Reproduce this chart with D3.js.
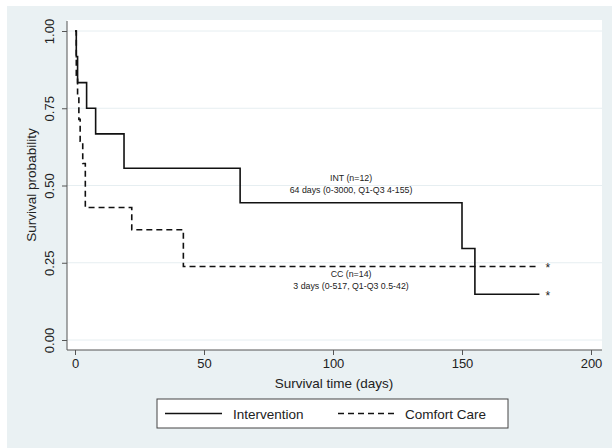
<!DOCTYPE html>
<html>
<head>
<meta charset="utf-8">
<script src="https://cdn.jsdelivr.net/npm/d3@7"></script>
<style>
  body { margin: 0; background: #fff; }
  svg text { font-family: "Liberation Sans", Arial, sans-serif; fill: #222; }
</style>
</head>
<body>
<svg width="612" height="448"></svg>
<script>
// Kaplan-Meier steps
var intTime = [0, 0.5, 1, 4.5, 8, 19, 64, 150, 155, 180];
var intSurv = [1, 0.917, 0.833, 0.75, 0.667, 0.556, 0.444, 0.296, 0.148, 0.148];
var ccTime = [0, 0.5, 1, 1.5, 2, 3, 4, 22, 42, 180];
var ccSurv = [1, 0.857, 0.786, 0.714, 0.643, 0.571, 0.429, 0.357, 0.238, 0.238];
var xTicks = [0, 50, 100, 150, 200];
var yTicks = [0, 0.25, 0.5, 0.75, 1];
var intNote = ["INT (n=12)", "64 days (0-3000, Q1-Q3 4-155)"];
var ccNote = ["CC (n=14)", "3 days (0-517, Q1-Q3 0.5-42)"];
var seriesNames = ["Intervention", "Comfort Care"];

var svg = d3.select("svg");

var x = d3.scaleLinear().domain([0, 200]).range([75, 591]);
var y = d3.scaleLinear().domain([0, 1]).range([340, 31]);

// graph region and plot region
svg.append("rect").attr("x", 7).attr("y", 6).attr("width", 605).attr("height", 442)
    .attr("fill", "#eaf1f3");
svg.append("rect").attr("x", 67).attr("y", 20).attr("width", 535).attr("height", 330)
    .attr("fill", "#fff");

// gridlines
svg.append("g").selectAll("line")
    .data(yTicks).enter().append("line")
    .attr("x1", 67).attr("x2", 602)
    .attr("y1", function (d) { return y(d); })
    .attr("y2", function (d) { return y(d); })
    .attr("stroke", "#e6eef1").attr("stroke-width", 1);

// axes
var xAxis = svg.append("g").attr("transform", "translate(0,350)")
    .call(d3.axisBottom(x).tickValues(xTicks).tickSize(5).tickPadding(4).tickFormat(d3.format("d")));
xAxis.select(".domain").attr("d", "M67,0H602").attr("stroke", "#555");
xAxis.selectAll(".tick line").attr("stroke", "#555");
xAxis.selectAll("text").attr("font-size", 13).style("font-family", "Liberation Sans, Arial, sans-serif");

var yAxis = svg.append("g").attr("transform", "translate(67,0)")
    .call(d3.axisLeft(y).tickValues(yTicks).tickSize(5).tickFormat(d3.format(".2f")));
yAxis.select(".domain").attr("d", "M0,21V350").attr("stroke", "#555");
yAxis.selectAll(".tick line").attr("stroke", "#555");
yAxis.selectAll(".tick text")
    .attr("font-size", 13)
    .style("font-family", "Liberation Sans, Arial, sans-serif")
    .attr("text-anchor", "middle")
    .attr("x", 0).attr("dy", 0)
    .attr("transform", "translate(-13,0) rotate(-90)");

svg.append("text").attr("x", 334).attr("y", 388).attr("text-anchor", "middle")
    .attr("font-size", 13.5).text("Survival time (days)");
svg.append("text").attr("transform", "translate(36,185) rotate(-90)")
    .attr("text-anchor", "middle").attr("font-size", 13.5).text("Survival probability");

// survival curves
var step = d3.line()
    .x(function (d) { return x(d[0]); })
    .y(function (d) { return y(d[1]); })
    .curve(d3.curveStepAfter);

var intData = d3.zip(intTime, intSurv);
var ccData = d3.zip(ccTime, ccSurv);

svg.append("path").datum(ccData).attr("d", step)
    .attr("fill", "none").attr("stroke", "#111").attr("stroke-width", 1.6)
    .attr("stroke-dasharray", "6,4");
svg.append("path").datum(intData).attr("d", step)
    .attr("fill", "none").attr("stroke", "#111").attr("stroke-width", 1.6);

// censor asterisks at the end
svg.append("g").selectAll("text")
    .data([intData[intData.length - 1], ccData[ccData.length - 1]])
    .enter().append("text")
    .attr("x", function (d) { return x(d[0]) + 6; })
    .attr("y", function (d) { return y(d[1]) + 6; })
    .attr("font-size", 12)
    .text("*");

// notes
function note(lines, t, s) {
    svg.append("g").selectAll("text")
        .data(lines).enter().append("text")
        .attr("x", x(t))
        .attr("y", function (d, i) { return y(s) + i * 12.5; })
        .attr("text-anchor", "middle")
        .attr("font-size", 8.8)
        .text(function (d) { return d; });
}
note(intNote, 107, 0.515);
note(ccNote, 107, 0.204);

// legend
var legend = svg.append("g");
legend.append("rect").attr("x", 157).attr("y", 399).attr("width", 351).attr("height", 29)
    .attr("fill", "#fff").attr("stroke", "#444").attr("stroke-width", 1);
var items = legend.selectAll("g.item")
    .data(seriesNames).enter().append("g")
    .attr("transform", function (d, i) { return "translate(" + (i === 0 ? 165 : 338) + ",413.5)"; });
items.append("line").attr("x1", 0).attr("x2", 57).attr("y1", 0).attr("y2", 0)
    .attr("stroke", "#111").attr("stroke-width", 1.6)
    .attr("stroke-dasharray", function (d, i) { return i === 0 ? null : "6,4"; });
items.append("text").attr("x", function (d, i) { return i === 0 ? 68 : 67; }).attr("y", 5)
    .attr("font-size", 13.5).text(function (d) { return d; });
</script>
</body>
</html>
